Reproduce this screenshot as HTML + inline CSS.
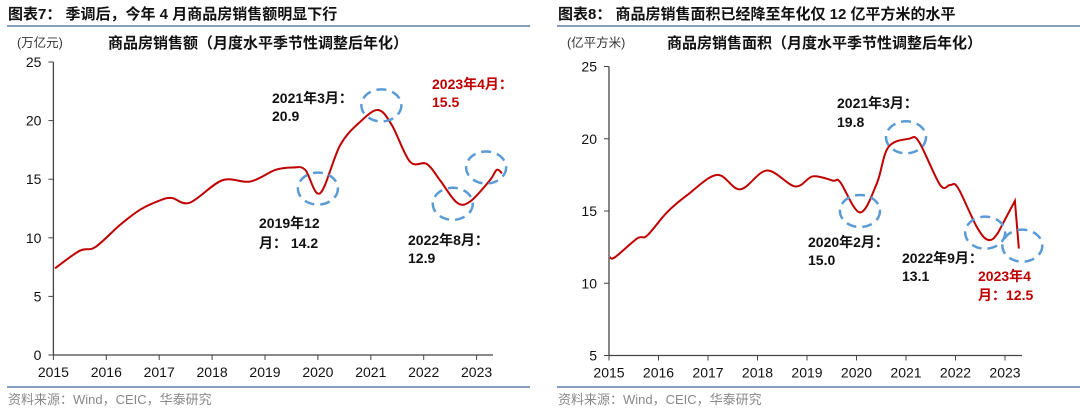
<!DOCTYPE html>
<html><head><meta charset="utf-8"><style>
html,body{margin:0;padding:0;background:#fff;width:1080px;height:410px;overflow:hidden}
svg{display:block;font-family:"Liberation Sans","Noto Sans CJK SC",sans-serif}
</style></head><body>
<svg id="s" width="1080" height="410" viewBox="0 0 1080 410">
<g>
<text x="8" y="19" font-size="15" font-weight="bold" fill="#111">图表7： 季调后，今年 4 月商品房销售额明显下行</text>
<line x1="7" y1="26" x2="530" y2="26" stroke="#5b7fa8" stroke-width="1.5"/>
<text x="17" y="47" font-size="12.5" fill="#333">(万亿元)</text>
<text x="108" y="48" font-size="15" font-weight="bold" fill="#111">商品房销售额（月度水平季节性调整后年化）</text>
</g>
<g>
<text x="558" y="19" font-size="15" font-weight="bold" fill="#111">图表8： 商品房销售面积已经降至年化仅 12 亿平方米的水平</text>
<line x1="557" y1="26" x2="1080" y2="26" stroke="#5b7fa8" stroke-width="1.5"/>
<text x="567" y="47" font-size="12.5" fill="#333">(亿平方米)</text>
<text x="667" y="48" font-size="15" font-weight="bold" fill="#111">商品房销售面积（月度水平季节性调整后年化）</text>
</g>
<line x1="7" y1="387" x2="530" y2="387" stroke="#5b7fa8" stroke-width="1.5"/>
<line x1="557" y1="387" x2="1080" y2="387" stroke="#5b7fa8" stroke-width="1.5"/>
<text x="8" y="404" font-size="13" fill="#888">资料来源：Wind，CEIC，华泰研究</text>
<text x="558" y="404" font-size="13" fill="#888">资料来源：Wind，CEIC，华泰研究</text>
<g id="L"></g>
<g id="R"></g>
</svg>
<script>
const years = ["2015","2016","2017","2018","2019","2020","2021","2022","2023"];
const leftYTicks = [0,5,10,15,20,25];
const rightYTicks = [5,10,15,20,25];
const leftT = [0.03,0.5,0.79,1.26,1.64,2.02,2.24,2.58,3.19,3.72,4.2,4.53,4.76,5.04,5.42,5.8,6.14,6.4,6.74,7.06,7.31,7.63,7.88,8.25,8.38,8.48];
const leftV = [7.4,8.9,9.2,11.1,12.4,13.2,13.4,13.0,14.9,14.8,15.8,16.0,15.8,13.8,17.9,19.9,20.9,19.6,16.5,16.3,14.9,13.0,13.1,14.9,15.8,15.5];
const rightT = [0.02,0.12,0.57,0.77,1.17,1.58,2.18,2.65,3.19,3.76,4.12,4.53,4.67,5.07,5.41,5.64,6.06,6.26,6.69,6.89,7.05,7.43,7.66,7.86,8.2,8.28];
const rightV = [11.8,11.8,13.1,13.3,14.9,16.1,17.5,16.5,17.8,16.7,17.4,17.1,17.0,14.9,16.9,19.4,20.0,19.8,16.8,16.8,16.6,13.9,13.0,13.5,15.7,12.4];
const leftCircles = [[5.0,14.2],[6.2,21.3],[7.55,12.9],[8.18,16.0]];
const rightCircles = [[5.07,15.0],[6.0,20.1],[7.6,13.5],[8.35,12.6]];
const NS="http://www.w3.org/2000/svg";
function mk(p,tag,at){const e=document.createElementNS(NS,tag);for(const k in at)e.setAttribute(k,at[k]);p.appendChild(e);return e;}
function draw(g,cfg){
  const sx=t=>cfg.x0+t*cfg.dx, sy=v=>cfg.y0-(v-cfg.vmin)*cfg.dy;
  const ax=mk(g,'line',{x1:cfg.x0,y1:sy(cfg.vmax),x2:cfg.x0,y2:sy(cfg.vmin),stroke:'#444','stroke-width':1.3});
  
  const xa=mk(g,'line',{x1:cfg.x0,y1:sy(cfg.vmin),x2:cfg.xend,y2:sy(cfg.vmin),stroke:'#444','stroke-width':1.3});
  
  cfg.yt.forEach(v=>{
    mk(g,'line',{x1:cfg.x0-5,y1:sy(v),x2:cfg.x0,y2:sy(v),stroke:'#444'});
    const t=mk(g,'text',{x:cfg.x0-12,y:sy(v)+5,'font-size':14,'text-anchor':'end',fill:'#111'});
    t.textContent=v;
    
    
  });
  years.forEach((y,i)=>{
    mk(g,'line',{x1:sx(i),y1:sy(cfg.vmin),x2:sx(i),y2:sy(cfg.vmin)+5,stroke:'#444'});
    const t=mk(g,'text',{x:sx(i),y:sy(cfg.vmin)+22,'font-size':14,'text-anchor':'middle',fill:'#111'});
    t.textContent=y;
    
    
  });
  const pts=cfg.T.map((t,i)=>[sx(t),sy(cfg.V[i])]);
  let d='M'+pts[0][0]+','+pts[0][1];
  for(let i=0;i<pts.length-1;i++){
    const p0=pts[Math.max(0,i-1)],p1=pts[i],p2=pts[i+1],p3=pts[Math.min(pts.length-1,i+2)];
    const k=cfg.sharpEnd&&i>=pts.length-3?0:1/6;
    d+=' C'+(p1[0]+(p2[0]-p0[0])*k)+','+(p1[1]+(p2[1]-p0[1])*k)+' '+(p2[0]-(p3[0]-p1[0])*k)+','+(p2[1]-(p3[1]-p1[1])*k)+' '+p2[0]+','+p2[1];
  }
  const ln=mk(g,'path',{d:d,fill:'none',stroke:'#c00000','stroke-width':2});
  
  
  cfg.C.forEach(c=>{
    const e=mk(g,'ellipse',{cx:sx(c[0]),cy:sy(c[1]),rx:20,ry:16,fill:'none',stroke:'#5b9bd5','stroke-width':2.5,'stroke-dasharray':'10 6'});
    
    
  });
  cfg.labels.forEach(l=>{
    const t=mk(g,'text',{x:l[0],y:l[1],'font-size':14,'font-weight':'bold',fill:l[3]||'#111'});
    t.textContent=l[2];
    
    
  });
}
draw(document.getElementById('L'),{x0:53.4,dx:52.9,xend:493,y0:355,vmin:0,vmax:25,dy:11.72,yt:leftYTicks,T:leftT,V:leftV,C:leftCircles,
 labels:[[272,103,'2021年3月：'],[272,121,'20.9'],[432,89,'2023年4月：','#c00000'],[432,107,'15.5','#c00000'],[259,228,'2019年12'],[259,248,'月： 14.2'],[408,245,'2022年8月：'],[408,263,'12.9']]});
draw(document.getElementById('R'),{x0:609,dx:49.5,xend:1022,y0:355.5,vmin:5,vmax:25,dy:14.45,yt:rightYTicks,T:rightT,V:rightV,C:rightCircles,sharpEnd:true,
 labels:[[837,108,'2021年3月：'],[837,127,'19.8'],[808,247,'2020年2月：'],[808,265,'15.0'],[902,263,'2022年9月：'],[902,281,'13.1'],[978,281,'2023年4','#c00000'],[978,300,'月：12.5','#c00000']]});
</script>
</body></html>
